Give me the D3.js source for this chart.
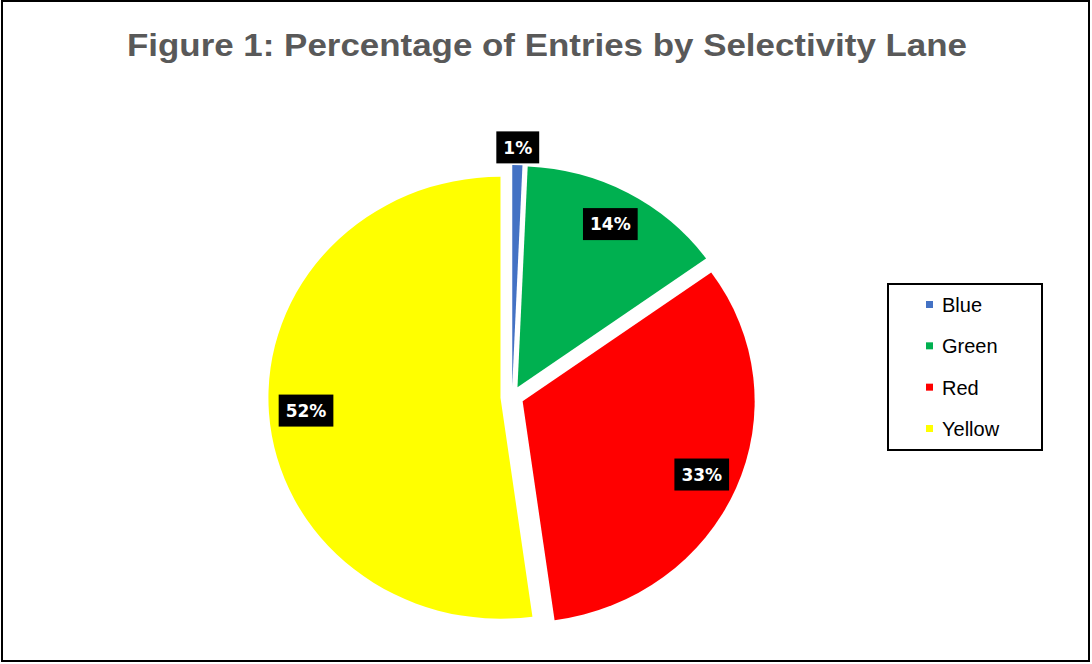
<!DOCTYPE html>
<meta charset="utf-8">
<head>
  <title>Percentage of Entries by Selectivity Lane</title>
</head>

<style>
body { margin: 0; background: #fff; }
text { font-family: "Liberation Sans", Arial, sans-serif; }
</style>

<body>
  <svg width="1092" height="664"></svg>

  <script src="https://cdn.jsdelivr.net/npm/d3@7"></script>

  <script>
var lanes = ['Blue', 'Green', 'Red', 'Yellow'];
var shares = [0.7, 14.4, 32.7, 52.2];
var laneColors = ['#4472C4', '#00B050', '#FF0000', '#FFFF00'];

var svg = d3.select('svg');

// outer frame
svg.append('rect')
  .attr('x', 2).attr('y', 1)
  .attr('width', 1087).attr('height', 660)
  .attr('fill', 'none')
  .attr('stroke', '#000')
  .attr('stroke-width', 2);

svg.append('text')
  .attr('x', 547).attr('y', 56)
  .attr('text-anchor', 'middle')
  .attr('textLength', 840)
  .attr('lengthAdjust', 'spacingAndGlyphs')
  .style('font-size', '31px')
  .style('font-weight', 'bold')
  .style('fill', '#595959')
  .text('Figure 1: Percentage of Entries by Selectivity Lane');

var cx = 512, cy = 397, radius = 221, explode = 11, sx = 1.05;

var pie = d3.pie().sort(null).value(function(d) { return d; });
var arcs = pie(shares);
var total = d3.sum(shares);
var pct = d3.format('.0%');

var arc = d3.arc().innerRadius(0).outerRadius(radius);

function mid(d) { return (d.startAngle + d.endAngle) / 2; }

var g = svg.append('g')
  .attr('transform', 'translate(' + cx + ',' + cy + ') scale(' + sx + ',1)');

g.selectAll('path')
  .data(arcs)
  .enter()
  .append('path')
  .attr('d', arc)
  .attr('fill', function(d, i) { return laneColors[i]; })
  .attr('transform', function(d) {
    var a = mid(d);
    return 'translate(' + explode * Math.sin(a) + ',' + (-explode * Math.cos(a)) + ')';
  });

// data labels
var labels = svg.selectAll('g.lbl')
  .data(arcs)
  .enter()
  .append('g')
  .attr('class', 'lbl')
  .attr('transform', function(d) {
    var a = mid(d);
    var k = (d.value / total) < 0.03 ? 1.08 : 0.84;
    var r = explode + k * radius;
    return 'translate(' + (cx + sx * r * Math.sin(a)) + ',' + (cy - r * Math.cos(a)) + ')';
  });

labels.append('text')
  .attr('text-anchor', 'middle')
  .attr('dy', '0.36em')
  .style('font-family', '"DejaVu Sans", sans-serif')
  .style('font-size', '17px')
  .style('font-weight', 'bold')
  .style('fill', '#fff')
  .text(function(d) { return pct(d.value / total); });

labels.each(function() {
  var grp = d3.select(this);
  var bb = grp.select('text').node().getBBox();
  grp.insert('rect', 'text')
    .attr('x', bb.x - 7)
    .attr('y', -16)
    .attr('width', bb.width + 14)
    .attr('height', 32)
    .attr('fill', '#000');
});

// legend
var legend = svg.append('g');
legend.append('rect')
  .attr('x', 888).attr('y', 284)
  .attr('width', 154).attr('height', 166)
  .attr('fill', '#fff')
  .attr('stroke', '#000')
  .attr('stroke-width', 2);

var legendY = d3.scalePoint().domain(lanes).range([305, 429]);

var items = legend.selectAll('g.item')
  .data(lanes)
  .enter()
  .append('g')
  .attr('class', 'item')
  .attr('transform', function(d) { return 'translate(926,' + legendY(d) + ')'; });

items.append('rect')
  .attr('x', 0).attr('y', -4)
  .attr('width', 7).attr('height', 7)
  .attr('fill', function(d, i) { return laneColors[i]; });

items.append('text')
  .attr('x', 16)
  .attr('dy', '0.35em')
  .style('font-size', '20px')
  .style('fill', '#000')
  .text(function(d) { return d; });
  </script>
</body>
</html>
